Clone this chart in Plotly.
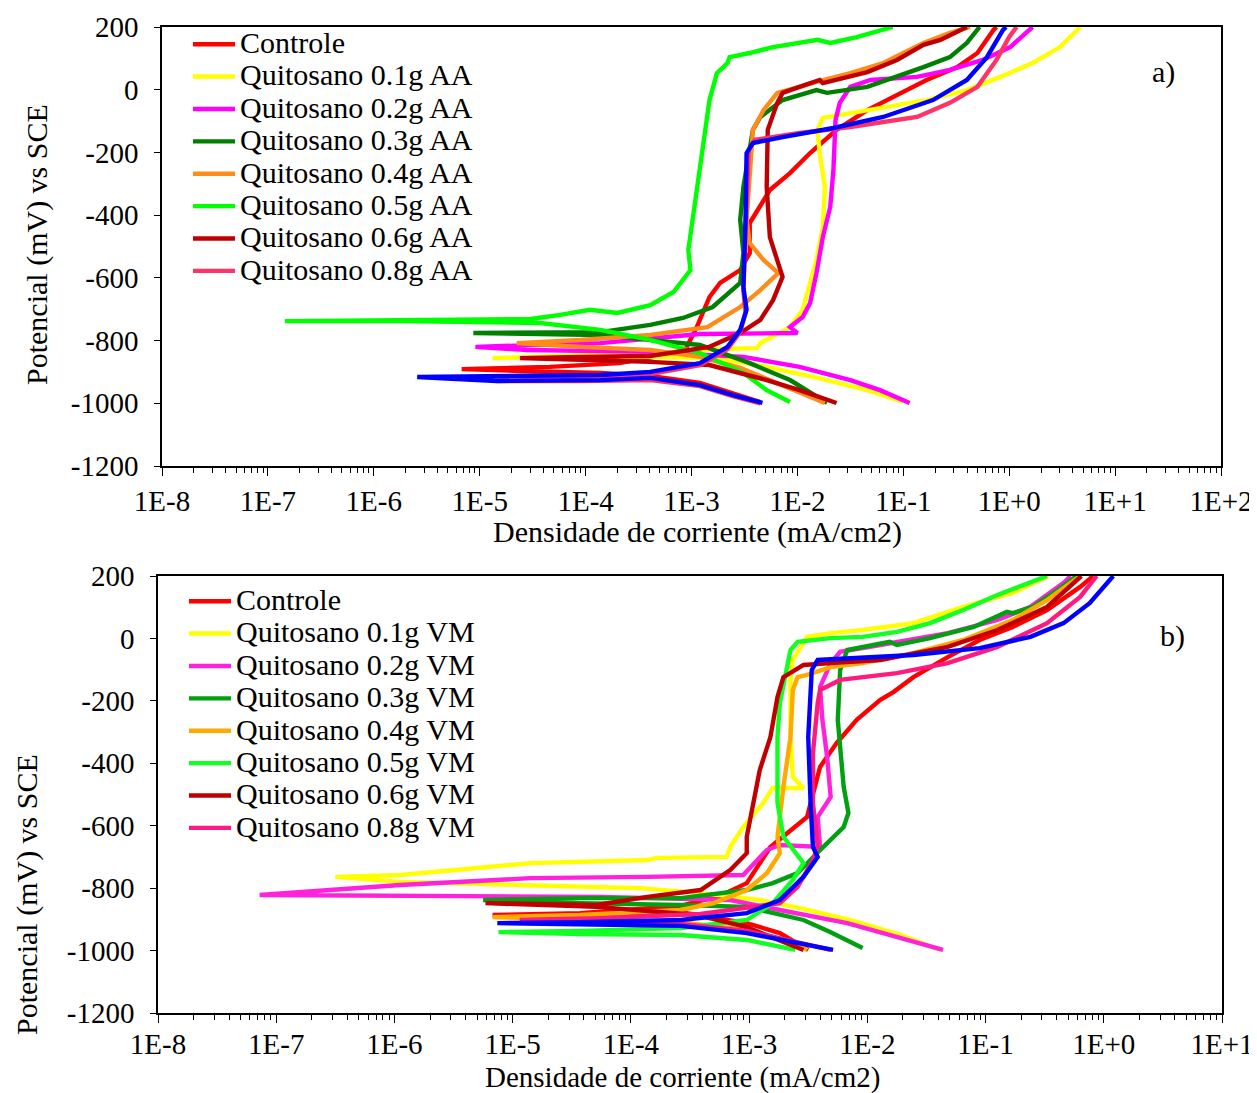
import numpy as np
import plotly.graph_objects as go

FONT = "Liberation Serif, Times New Roman, serif"

# ---------------- tick labels ----------------
X_TICK_EXP_A = [-8, -7, -6, -5, -4, -3, -2, -1, 0, 1, 2]
X_TICK_TEXT_A = ["1E-8", "1E-7", "1E-6", "1E-5", "1E-4", "1E-3", "1E-2", "1E-1", "1E+0", "1E+1", "1E+2"]
X_TICK_EXP_B = [-8, -7, -6, -5, -4, -3, -2, -1, 0, 1]
X_TICK_TEXT_B = ["1E-8", "1E-7", "1E-6", "1E-5", "1E-4", "1E-3", "1E-2", "1E-1", "1E+0", "1E+1"]
Y_TICK_VALS = [200, 0, -200, -400, -600, -800, -1000, -1200]
Y_TICK_TEXT = ["200", "0", "-200", "-400", "-600", "-800", "-1000", "-1200"]

# ---------------- series names ----------------
NAMES_A = ["Controle", "Quitosano 0.1g AA", "Quitosano 0.2g AA", "Quitosano 0.3g AA",
           "Quitosano 0.4g AA", "Quitosano 0.5g AA", "Quitosano 0.6g AA", "Quitosano 0.8g AA"]
NAMES_B = ["Controle", "Quitosano 0.1g VM", "Quitosano 0.2g VM", "Quitosano 0.3g VM",
           "Quitosano 0.4g VM", "Quitosano 0.5g VM", "Quitosano 0.6g VM", "Quitosano 0.8g VM"]
COLORS_A = ["#ff0000", "#ffff00", "#ff00ff", "#007f00", "#ff8c1a", "#00ff00", "#c00000", "#ff3366"]
COLORS_B = ["#ff0000", "#ffff00", "#ff22dd", "#00a010", "#ffaa00", "#11ff22", "#c00000", "#ff1a80"]
BLUE = "#0000ff"

# ---------------- panel a) data : log10 current density (mA/cm2), potential (mV) ----------------
A_CONTROLE_LOGI = [-2.35, -2.64, -2.92, -3.39, -3.86, -4.62, -5.17, -4.34, -3.68, -3.30, -3.06, -2.95, -2.83, -2.73,
                   -2.54, -2.45, -2.45, -2.26, -2.07, -1.88, -1.63, -1.34, -1.03, -0.78, -0.49, -0.30, -0.15, -0.12]
A_CONTROLE_E = [-996, -964, -935, -913, -903, -897, -891, -884, -872, -849, -830, -757, -661, -616,
                -575, -521, -425, -320, -266, -202, -128, -65, -10, 31, 72, 117, 190, 200]

A_Q01_LOGI = [-1.00, -1.34, -1.81, -2.29, -2.76, -3.39, -4.24, -4.88, -4.24, -3.39, -2.73, -2.38, -2.35, -2.07, -1.95,
              -1.88, -1.82, -1.76, -1.74, -1.79, -1.81, -1.76, -1.50, -1.19, -0.78, -0.40, -0.09, 0.22, 0.48, 0.67]
A_Q01_E = [-996, -958, -919, -884, -856, -852, -852, -856, -849, -840, -827, -824, -808, -757, -702,
           -616, -543, -438, -310, -202, -128, -90, -74, -58, -33, -1, 40, 85, 136, 200]

A_Q02_LOGI = [-0.94, -1.22, -1.50, -1.98, -2.51, -3.39, -4.55, -5.04, -3.86, -2.92, -2.00, -2.07, -1.95, -1.88,
              -1.82, -1.76, -1.69, -1.66, -1.64, -1.60, -1.50, -1.31, -0.87, -0.56, -0.25, 0.01, 0.22]
A_Q02_E = [-999, -958, -926, -884, -852, -836, -830, -820, -808, -779, -776, -757, -725, -680,
           -585, -470, -374, -256, -97, -42, 9, 31, 41, 63, 95, 136, 200]

A_Q03_LOGI = [-1.72, -2.07, -2.45, -2.92, -3.86, -4.62, -5.06, -3.86, -3.39, -3.08, -2.80, -2.54, -2.51, -2.54,
              -2.51, -2.42, -2.35, -2.14, -1.82, -1.72, -1.34, -0.81, -0.56, -0.40, -0.28]
A_Q03_E = [-999, -926, -872, -814, -782, -779, -776, -773, -750, -728, -693, -616, -521, -415,
           -310, -128, -87, -33, -1, -10, 9, 72, 104, 149, 200]

A_Q04_LOGI = [-1.74, -2.16, -2.54, -2.92, -3.39, -4.05, -4.65, -4.05, -3.39, -2.85, -2.54, -2.35, -2.18, -2.32,
              -2.45, -2.48, -2.45, -2.42, -2.32, -2.19, -1.98, -1.82, -1.50, -1.19, -0.81, -0.56, -0.37]
A_Q04_E = [-999, -942, -887, -852, -830, -820, -808, -798, -782, -757, -693, -639, -585, -543,
           -489, -415, -256, -128, -65, -10, 9, 25, 53, 85, 149, 181, 200]

A_Q05_LOGI = [-2.07, -2.29, -2.51, -2.92, -3.39, -3.86, -4.43, -5.75, -6.84, -5.75, -4.52, -4.24, -3.96, -3.70,
              -3.39, -3.17, -3.01, -3.03, -2.99, -2.92, -2.85, -2.83, -2.76, -2.66, -2.64, -2.45, -2.23, -1.81,
              -1.69, -1.44, -1.10]
A_Q05_E = [-996, -958, -903, -840, -798, -766, -744, -738, -738, -734, -731, -718, -702, -712,
           -687, -645, -575, -511, -415, -256, -97, -33, 53, 85, 104, 117, 136, 159,
           149, 168, 200]

A_Q06_LOGI = [-1.63, -1.98, -2.29, -2.83, -3.39, -4.05, -4.62, -4.05, -3.39, -2.83, -2.54, -2.35, -2.23, -2.14,
              -2.19, -2.26, -2.29, -2.28, -2.19, -2.14, -1.98, -1.79, -1.76, -1.34, -1.06, -0.81, -0.65, -0.40]
A_Q06_E = [-999, -958, -926, -878, -868, -862, -856, -852, -849, -820, -776, -734, -671, -597,
           -543, -470, -310, -128, -42, -10, 9, 31, 21, 56, 95, 143, 159, 200]

A_Q08_LOGI = [-2.35, -2.61, -2.92, -3.39, -4.05, -4.84, -4.24, -3.39, -2.92, -2.66, -2.54, -2.49, -2.51, -2.49,
              -2.46, -2.40, -1.98, -1.50, -0.87, -0.56, -0.30, -0.12, 0.00, 0.07]
A_Q08_E = [-1000, -977, -945, -926, -929, -929, -923, -907, -878, -827, -773, -709, -639, -415,
           -192, -160, -138, -119, -87, -42, 9, 95, 168, 200]

A_BLUE_LOGI = [-2.33, -2.61, -2.92, -3.39, -3.86, -4.84, -5.59, -4.81, -3.86, -3.39, -2.92, -2.66, -2.54, -2.48,
               -2.51, -2.49, -2.48, -2.42, -2.14, -1.66, -1.19, -0.72, -0.40, -0.21, -0.06, -0.03]
A_BLUE_E = [-999, -974, -942, -919, -926, -929, -916, -913, -910, -900, -872, -820, -766, -702,
            -629, -415, -202, -170, -151, -122, -87, -33, 31, 104, 190, 200]

# ---------------- panel b) data ----------------
B_CONTROLE_LOGI = [-2.50, -2.74, -3.02, -3.58, -4.43, -5.17, -4.43, -3.58, -3.25, -3.02, -2.82, -2.51, -2.40, -2.26,
                   -2.09, -1.89, -1.78, -1.61, -1.32, -1.05, -0.77, -0.48, -0.20, -0.09]
B_CONTROLE_E = [-998, -944, -912, -877, -883, -886, -880, -857, -825, -784, -668, -572, -412, -335,
                -261, -197, -172, -124, -60, -5, 37, 91, 165, 200]

B_Q01_LOGI = [-1.38, -1.72, -2.15, -2.57, -2.91, -3.41, -3.92, -4.60, -5.45, -5.95, -6.50, -5.95, -4.85, -3.86,
              -3.78, -3.19, -3.16, -3.05, -2.88, -2.80, -2.54, -2.63, -2.65, -2.65, -2.63, -2.51, -2.31, -2.04,
              -1.61, -1.19, -0.77, -0.47]
B_Q01_E = [-998, -950, -902, -864, -838, -816, -800, -793, -787, -780, -764, -758, -720, -710,
           -703, -700, -668, -604, -527, -479, -479, -444, -316, -133, -69, 5, 17, 27,
           49, 101, 146, 200]

B_Q02_LOGI = [-1.36, -1.75, -2.17, -2.74, -3.16, -4.26, -5.95, -7.14, -5.95, -4.85, -3.86, -3.05, -2.85, -2.74,
              -2.40, -2.42, -2.31, -2.34, -2.38, -2.40, -2.31, -2.23, -1.89, -1.32, -0.90, -0.62, -0.34, -0.28]
B_Q02_E = [-998, -957, -912, -870, -838, -828, -825, -822, -790, -768, -764, -758, -678, -662,
           -668, -572, -508, -380, -261, -156, -79, -43, -21, 17, 59, 101, 178, 200]

B_Q03_LOGI = [-2.04, -2.31, -2.54, -3.02, -3.58, -4.43, -5.25, -4.43, -3.58, -3.02, -2.80, -2.59, -2.40, -2.20,
              -2.16, -2.20, -2.25, -2.23, -2.17, -1.81, -1.75, -1.47, -1.10, -0.82, -0.77, -0.60, -0.39, -0.23]
B_Q03_E = [-992, -941, -902, -860, -854, -848, -838, -832, -832, -806, -784, -752, -678, -604,
           -559, -476, -261, -101, -37, -11, -21, 1, 37, 85, 81, 101, 155, 200]

B_Q04_LOGI = [-2.51, -2.59, -3.02, -3.58, -4.43, -5.17, -4.43, -3.58, -3.30, -3.02, -2.85, -2.74, -2.76, -2.71,
              -2.65, -2.63, -2.59, -2.51, -2.31, -2.04, -1.61, -1.19, -0.77, -0.48, -0.20]
B_Q04_E = [-998, -976, -934, -909, -899, -893, -886, -870, -848, -806, -752, -688, -636, -476,
           -316, -165, -124, -117, -92, -79, -47, -5, 59, 123, 200]

B_Q05_LOGI = [-2.61, -3.02, -3.58, -4.43, -5.12, -4.43, -3.58, -3.02, -2.80, -2.63, -2.54, -2.63, -2.71, -2.76,
              -2.76, -2.74, -2.68, -2.65, -2.59, -2.31, -2.04, -1.75, -1.47, -1.19, -0.90, -0.62, -0.48]
B_Q05_E = [-998, -966, -950, -947, -941, -937, -928, -902, -848, -774, -720, -678, -636, -527,
           -316, -207, -101, -37, -11, 1, 5, 21, 49, 91, 139, 178, 200]

B_Q06_LOGI = [-2.54, -3.02, -3.44, -4.29, -5.23, -4.29, -3.86, -3.41, -3.16, -3.02, -3.02, -2.91, -2.82, -2.76,
              -2.71, -2.54, -2.31, -1.89, -1.32, -0.90, -0.48, -0.19]
B_Q06_E = [-998, -925, -886, -860, -848, -854, -828, -806, -742, -688, -636, -422, -316, -188,
           -124, -85, -79, -69, -27, 27, 101, 200]

B_Q08_LOGI = [-2.31, -3.02, -3.58, -4.43, -4.94, -4.26, -3.41, -2.74, -2.59, -2.46, -2.42, -2.46, -2.46, -2.42,
              -2.40, -2.23, -1.75, -1.32, -0.90, -0.48, -0.20, -0.06]
B_Q08_E = [-998, -937, -915, -905, -902, -896, -883, -848, -796, -710, -668, -527, -367, -207,
           -165, -133, -111, -79, -27, 49, 133, 200]

B_BLUE_LOGI = [-2.29, -2.59, -3.02, -3.58, -4.43, -5.13, -4.43, -3.58, -3.02, -2.74, -2.54, -2.42, -2.46, -2.48,
               -2.50, -2.47, -2.42, -2.17, -1.61, -1.05, -0.62, -0.34, -0.12, 0.08]
B_BLUE_E = [-998, -976, -944, -921, -915, -912, -909, -902, -880, -838, -764, -700, -668, -527,
            -316, -101, -69, -63, -53, -31, 5, 49, 113, 200]

SERIES_A = [(A_CONTROLE_LOGI, A_CONTROLE_E), (A_Q01_LOGI, A_Q01_E), (A_Q02_LOGI, A_Q02_E), (A_Q03_LOGI, A_Q03_E),
            (A_Q04_LOGI, A_Q04_E), (A_Q05_LOGI, A_Q05_E), (A_Q06_LOGI, A_Q06_E), (A_Q08_LOGI, A_Q08_E)]
SERIES_B = [(B_CONTROLE_LOGI, B_CONTROLE_E), (B_Q01_LOGI, B_Q01_E), (B_Q02_LOGI, B_Q02_E), (B_Q03_LOGI, B_Q03_E),
            (B_Q04_LOGI, B_Q04_E), (B_Q05_LOGI, B_Q05_E), (B_Q06_LOGI, B_Q06_E), (B_Q08_LOGI, B_Q08_E)]

# page has an 8 px body margin: figure is sized to fit, layout given in page pixels
OFF = 8
W, H = 1257 - OFF, 1093 - OFF
LEG_FONT = 22.6   # controls row spacing
TXT_FONT = 30     # visible legend text size
TITLE_FONT = 30
LINE_W = 4.4


def fx(px):
    return (px - OFF) / W


def fy(py):
    return 1 - (py - OFF) / H


def leg_name(s):
    return f'<span style="font-size:{TXT_FONT}px">{s}</span>'


fig = go.Figure()

for (logi, e), name, col in zip(SERIES_A, NAMES_A, COLORS_A):
    fig.add_trace(go.Scatter(x=np.power(10.0, logi), y=e, mode="lines", name=leg_name(name),
                             line=dict(color=col, width=LINE_W), xaxis="x", yaxis="y", legend="legend"))
fig.add_trace(go.Scatter(x=np.power(10.0, A_BLUE_LOGI), y=A_BLUE_E, mode="lines", name="a) serie azul",
                         line=dict(color=BLUE, width=LINE_W), xaxis="x", yaxis="y", showlegend=False))

for (logi, e), name, col in zip(SERIES_B, NAMES_B, COLORS_B):
    fig.add_trace(go.Scatter(x=np.power(10.0, logi), y=e, mode="lines", name=leg_name(name),
                             line=dict(color=col, width=LINE_W), xaxis="x2", yaxis="y2", legend="legend2"))
fig.add_trace(go.Scatter(x=np.power(10.0, B_BLUE_LOGI), y=B_BLUE_E, mode="lines", name="b) serie azul",
                         line=dict(color=BLUE, width=LINE_W), xaxis="x2", yaxis="y2", showlegend=False))

tickfont = dict(family=FONT, size=29, color="black")
common_x = dict(type="log", showgrid=False, zeroline=False, showline=True, linecolor="black", linewidth=1.5,
                mirror=True, ticks="outside", ticklen=8, tickwidth=1, tickcolor="black", tickfont=tickfont,
                automargin=False,
                minor=dict(ticks="outside", ticklen=5, tickcolor="black", dtick="D1", showgrid=False))
common_y = dict(showgrid=False, zeroline=False, showline=True, linecolor="black", linewidth=1.5, mirror=True,
                ticks="outside", ticklen=6, tickwidth=1, tickcolor="black", tickfont=tickfont,
                automargin=False, ticklabelstandoff=10,
                range=[-1200, 200], tickvals=Y_TICK_VALS, ticktext=Y_TICK_TEXT)


def note(text, px, py, angle=0, size=TITLE_FONT):
    return dict(text=text, x=fx(px), y=fy(py), xref="paper", yref="paper", showarrow=False,
                xanchor="center", yanchor="middle", textangle=angle,
                font=dict(family=FONT, size=size, color="black"))


fig.update_layout(
    width=W, height=H, margin=dict(l=0, r=0, t=0, b=0, autoexpand=False),
    paper_bgcolor="white", plot_bgcolor="white",
    font=dict(family=FONT, color="black"),
    xaxis=dict(common_x, domain=[fx(162), fx(1221)], range=[-8, 2], anchor="y",
               tickvals=[10.0 ** k for k in X_TICK_EXP_A], ticktext=X_TICK_TEXT_A),
    yaxis=dict(common_y, domain=[fy(466), fy(27)], anchor="x"),
    xaxis2=dict(common_x, domain=[fx(158), fx(1222)], range=[-8, 1], anchor="y2",
                tickvals=[10.0 ** k for k in X_TICK_EXP_B], ticktext=X_TICK_TEXT_B,
                ticklabelstandoff=-4),
    yaxis2=dict(common_y, domain=[fy(1013), fy(576)], anchor="x2"),
    legend=dict(x=fx(188), y=fy(23), xanchor="left", yanchor="top", bgcolor="rgba(0,0,0,0)",
                borderwidth=0, font=dict(family=FONT, size=LEG_FONT, color="black"), itemwidth=42,
                tracegroupgap=0),
    legend2=dict(x=fx(184), y=fy(580), xanchor="left", yanchor="top", bgcolor="rgba(0,0,0,0)",
                 borderwidth=0, font=dict(family=FONT, size=LEG_FONT, color="black"), itemwidth=42,
                 tracegroupgap=0),
    annotations=[
        note("Potencial (mV) vs SCE", 37, 245, -90),
        note("Potencial (mV) vs SCE", 27, 895, -90),
        note("Densidade de corriente (mA/cm2)", 697, 532),
        note("Densidade de corriente (mA/cm2)", 682, 1077, size=29),
        note("a)", 1163, 72),
        note("b)", 1172, 636),
    ],
)

fig.write_html("out.html")
